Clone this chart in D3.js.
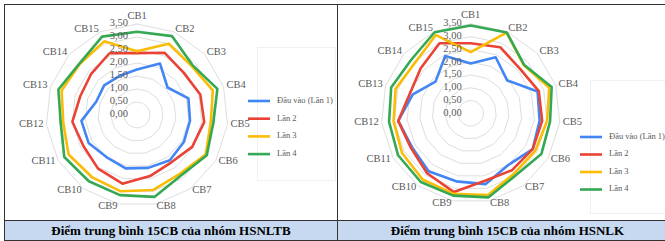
<!DOCTYPE html>
<html><head><meta charset="utf-8">
<script src="https://cdn.jsdelivr.net/npm/d3@7"></script>
<style>html,body{margin:0;padding:0;background:#fff;} svg{display:block;}</style>
</head><body>
<script>
// ---------- data ----------
const categories = ["CB1","CB2","CB3","CB4","CB5","CB6","CB7","CB8","CB9","CB10","CB11","CB12","CB13","CB14","CB15"];
const tickValues = [0, 0.5, 1, 1.5, 2, 2.5, 3, 3.5];
const tickLabels = ["0,00","0,50","1,00","1,50","2,00","2,50","3,00","3,50"];
const seriesNames = ["Đầu vào (Lần 1)", "Lần 2", "Lần 3", "Lần 4"];
const seriesColors = ["#4285F4", "#EA4335", "#FBBC04", "#34A853"];

// Nhóm HSNLTB
const hsnltbLan1 = [1.75, 2.17, 1.58, 2.08, 2.05, 2.08, 2.15, 2.08, 2.10, 2.00, 2.15, 2.15, 1.65, 1.70, 1.65];
const hsnltbLan2 = [2.38, 2.62, 2.42, 2.56, 2.60, 2.45, 2.25, 2.40, 2.70, 2.55, 2.38, 2.50, 2.30, 2.37, 2.60];
const hsnltbLan3 = [2.45, 3.00, 2.82, 3.07, 2.85, 3.05, 2.80, 2.95, 3.00, 2.95, 3.04, 2.85, 3.05, 2.95, 3.10];
const hsnltbLan4 = [3.20, 3.32, 2.87, 3.25, 2.95, 3.10, 2.88, 3.22, 3.15, 3.15, 3.23, 2.95, 3.18, 2.97, 3.30];

// Nhóm HSNLK
const hsnlkLan1 = [1.95, 2.40, 1.92, 2.75, 2.71, 2.80, 2.50, 2.83, 2.72, 2.80, 2.65, 2.85, 2.38, 1.85, 2.45];
const hsnlkLan2 = [2.74, 2.83, 2.60, 2.80, 2.81, 2.80, 2.75, 2.70, 3.15, 2.90, 2.70, 2.85, 2.50, 2.63, 3.00];
const hsnlkLan3 = [2.39, 3.45, 2.80, 3.23, 3.00, 2.92, 2.90, 3.27, 3.22, 3.20, 3.10, 3.03, 3.09, 2.94, 3.35];
const hsnlkLan4 = [3.43, 3.46, 2.82, 3.33, 3.12, 3.19, 3.00, 3.36, 3.29, 3.32, 3.28, 3.21, 3.27, 3.13, 3.47];

const captions = ["Điểm trung bình 15CB của nhóm HSNLTB", "Điểm trung bình 15CB của nhóm HSNLK"];

// ---------- layout ----------
const W = 665, H = 241;
const serif = "'Liberation Serif','Times New Roman',serif";
const panels = [
  {x0: 4.5, x1: 337.5, cx: 137, cy: 115, R: 91, legX: 248, legY: 101, legStep: 17.7,
   box: [257, 47, 78, 133], series: [hsnltbLan1, hsnltbLan2, hsnltbLan3, hsnltbLan4], caption: captions[0]},
  {x0: 337.5, x1: 677.5, cx: 470.7, cy: 113.3, R: 89.5, legX: 580, legY: 137, legStep: 17.5,
   box: [590, 80, 90, 133], series: [hsnlkLan1, hsnlkLan2, hsnlkLan3, hsnlkLan4], caption: captions[1]}
];
const frameTop = 4.5, capTop = 220.5, frameBottom = 240.5;

const svg = d3.select("body").append("svg").attr("width", W).attr("height", H);
svg.append("rect").attr("width", W).attr("height", H).attr("fill", "#fff");

const angle = d3.scaleLinear().domain([0, categories.length]).range([0, 2 * Math.PI]);

panels.forEach(p => {
  const g = svg.append("g");
  const r = d3.scaleLinear().domain([0, 3.5]).range([0, p.R]);

  // faint legend/plot box
  g.append("rect").attr("x", p.box[0] + 0.5).attr("y", p.box[1] + 0.5)
    .attr("width", p.box[2]).attr("height", p.box[3])
    .attr("fill", "none").attr("stroke", "#f0f0f0").attr("stroke-width", 1);

  const c = g.append("g").attr("transform", `translate(${p.cx},${p.cy})`);

  // grid rings
  tickValues.slice(1).forEach(v => {
    c.append("path")
      .datum(categories.map((d, i) => i))
      .attr("d", d3.lineRadial().angle(i => angle(i)).radius(() => r(v)).curve(d3.curveLinearClosed))
      .attr("fill", "none").attr("stroke", "#dedede").attr("stroke-width", 1);
  });

  // series
  p.series.forEach((vals, si) => {
    c.append("path")
      .datum(vals)
      .attr("d", d3.lineRadial().angle((d, i) => angle(i)).radius(d => r(d)).curve(d3.curveLinearClosed))
      .attr("fill", "none").attr("stroke", seriesColors[si]).attr("stroke-width", 2.6)
      .attr("stroke-linejoin", "round");
  });

  // tick labels
  tickValues.forEach((v, i) => {
    c.append("text").attr("x", -9).attr("y", -r(v))
      .attr("text-anchor", "end").attr("dominant-baseline", "middle")
      .attr("font-family", serif).attr("font-size", 10.5).attr("fill", "#595959")
      .text(tickLabels[i]);
  });

  // category labels
  const lr = p.R * 1.033;
  categories.forEach((cat, i) => {
    const a = angle(i), s = Math.sin(a), co = Math.cos(a);
    const t = c.append("text")
      .attr("x", lr * s).attr("font-family", serif).attr("font-size", 10.5).attr("fill", "#595959")
      .attr("text-anchor", Math.abs(s) < 0.01 ? "middle" : (s > 0 ? "start" : "end"))
      .text(cat);
    if (Math.abs(s) < 0.01 && co > 0) t.attr("y", -lr - 2.5);
    else t.attr("y", -lr * co).attr("dominant-baseline", "middle");
  });

  // legend
  seriesNames.forEach((name, si) => {
    const y = p.legY + si * p.legStep;
    g.append("line").attr("x1", p.legX).attr("x2", p.legX + 22).attr("y1", y).attr("y2", y)
      .attr("stroke", seriesColors[si]).attr("stroke-width", 2.6);
    g.append("text").attr("x", p.legX + 29).attr("y", y).attr("dominant-baseline", "middle")
      .attr("font-family", serif).attr("font-size", 8.5).attr("fill", "#595959").text(name);
  });

  // caption cell
  g.append("rect").attr("x", p.x0).attr("y", capTop).attr("width", p.x1 - p.x0).attr("height", frameBottom - capTop)
    .attr("fill", "#c6d9f1").attr("stroke", "#333").attr("stroke-width", 1);
  g.append("text").attr("x", (p.x0 + p.x1) / 2).attr("y", 235)
    .attr("text-anchor", "middle").attr("font-family", serif).attr("font-weight", "bold")
    .attr("font-size", 13).attr("fill", "#000").text(p.caption);

  // panel border
  g.append("rect").attr("x", p.x0).attr("y", frameTop).attr("width", p.x1 - p.x0).attr("height", frameBottom - frameTop)
    .attr("fill", "none").attr("stroke", "#333").attr("stroke-width", 1);
});
</script>
</body></html>
